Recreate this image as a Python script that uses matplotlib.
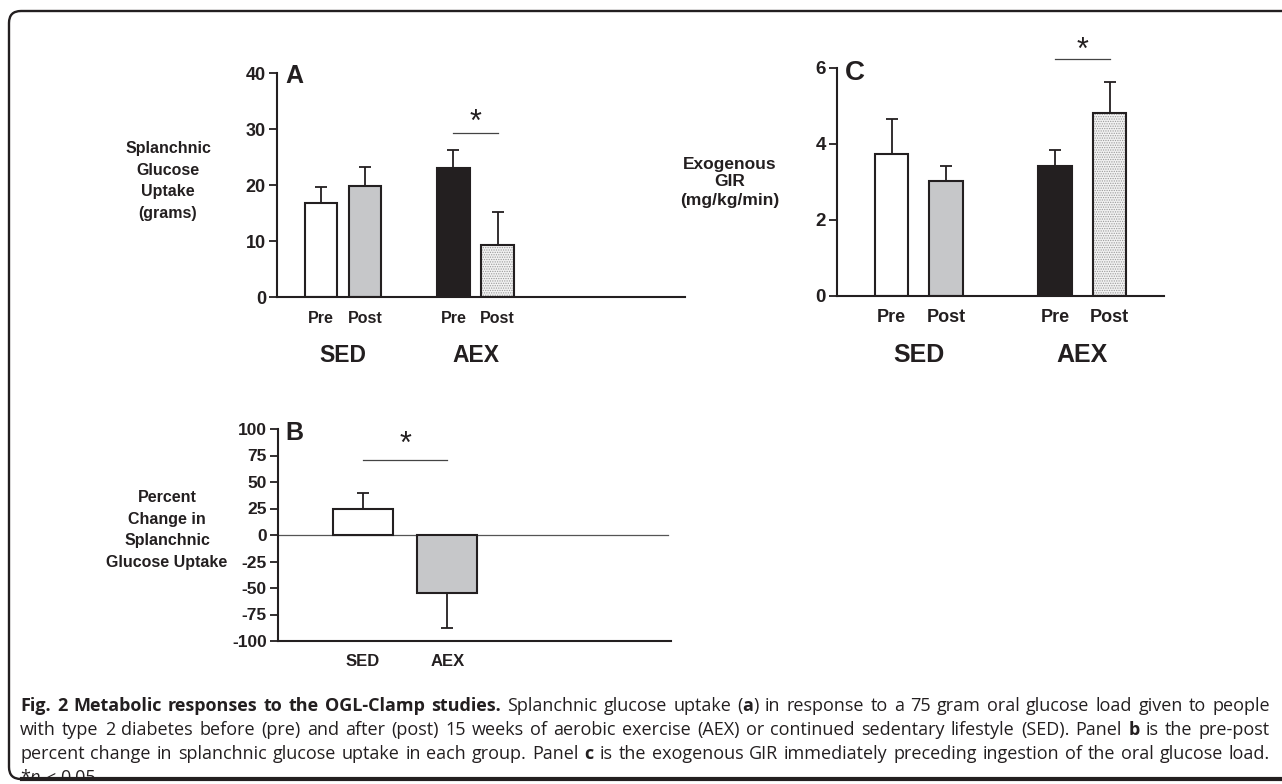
import matplotlib.pyplot as plt
from matplotlib.patches import FancyBboxPatch, Rectangle
from matplotlib.lines import Line2D

W, H = 1282, 784

# panels A and C: pre / post values for each group
phases = ['Pre', 'Post', 'Pre', 'Post']
groups = ['SED', 'AEX']
bar_pos = [0, 1, 3, 4]
sgu_mean = [16.7, 19.9, 23.1, 9.2]     # splanchnic glucose uptake (grams)
sgu_err = [2.9, 3.4, 3.1, 5.9]
gir_mean = [3.75, 3.03, 3.43, 4.81]    # exogenous GIR (mg/kg/min)
gir_err = [0.90, 0.40, 0.41, 0.81]

# panel B: percent change pre -> post
pct_groups = ['SED', 'AEX']
pct_pos = [0, 1]
pct_mean = [24.5, -55.0]
pct_err = [15.0, 32.5]

# ** toggles bold, __ toggles italic
caption_lines = [
    "**Fig. 2 Metabolic responses to the OGL-Clamp studies.** Splanchnic glucose uptake (**a**) in response to a 75 gram oral glucose load given to people",
    "with type 2 diabetes before (pre) and after (post) 15 weeks of aerobic exercise (AEX) or continued sedentary lifestyle (SED). Panel **b** is the pre-post",
    "percent change in splanchnic glucose uptake in each group. Panel **c** is the exogenous GIR immediately preceding ingestion of the oral glucose load.",
    "*__p__ < 0.05",
]

INK = '#231f20'
fills = ['white', '#c6c7c9', INK, '#f2f2f2']
hatches = [None, None, None, '.......']

plt.rcParams['font.family'] = ['Liberation Sans', 'DejaVu Sans']
plt.rcParams['hatch.linewidth'] = 0.6
plt.rcParams['axes.unicode_minus'] = False

fig = plt.figure(figsize=(W / 100, H / 100), dpi=100)


def add_ax(l, t, r, b):
    return fig.add_axes([l / W, 1 - b / H, (r - l) / W, (b - t) / H])


def style(ax, ticksize):
    for s in ['top', 'right']:
        ax.spines[s].set_visible(False)
    for s in ['left', 'bottom']:
        ax.spines[s].set_linewidth(1.5)
        ax.spines[s].set_color(INK)
    ax.tick_params(axis='y', length=6, width=1.3, pad=2, colors=INK, labelsize=ticksize)
    ax.tick_params(axis='x', length=0)
    for lab in ax.get_yticklabels():
        lab.set_fontweight('bold')


def draw_bars(ax, pos, means, errs, width, styles):
    for x, m, e, (fc, ht) in zip(pos, means, errs, styles):
        yerr = [[0], [e]] if m >= 0 else [[e], [0]]
        ax.errorbar([x], [m], yerr=yerr, fmt='none', ecolor=INK, elinewidth=1.3,
                    capsize=4.5, capthick=1.3, zorder=1)
        if ht:
            ax.bar(x, m, width, color=fc, hatch=ht, edgecolor='#9a9a9a', linewidth=0, zorder=2)
            ax.bar(x, m, width, fill=False, edgecolor=INK, linewidth=1.5, zorder=3)
        else:
            ax.bar(x, m, width, color=fc, edgecolor=INK, linewidth=1.5, zorder=2)


def sig(ax, x0, x1, y, ystar):
    ax.plot([x0, x1], [y, y], color='#444444', lw=0.9, clip_on=False)
    ax.annotate('*', xy=((x0 + x1) / 2, ystar), xytext=(0, -12.5), textcoords='offset points',
                ha='center', va='baseline', fontsize=22, color=INK, annotation_clip=False)


def group_labels(ax, xs, labels, off_px, size):
    for x, lab in zip(xs, labels):
        ax.annotate(lab, xy=(x, 0), xycoords=('data', 'axes fraction'),
                    xytext=(0, -off_px * 0.72), textcoords='offset points',
                    ha='center', va='center', fontsize=size, fontweight='bold', color=INK,
                    annotation_clip=False)


# ---- panel A
axA = add_ax(277, 73, 685, 297)
draw_bars(axA, bar_pos, sgu_mean, sgu_err, 0.73, list(zip(fills, hatches)))
axA.set_xlim(-1.0, 8.25)
axA.set_ylim(0, 40)
axA.set_yticks([0, 10, 20, 30, 40])
axA.set_xticks(bar_pos)
axA.set_xticklabels(phases, fontsize=11.5, fontweight='bold', color=INK)
axA.tick_params(axis='x', pad=10)
style(axA, 13)
sig(axA, bar_pos[2], bar_pos[3], 29.3, 32.7)
group_labels(axA, [0.5, 3.5], groups, 58, 16.5)

# ---- panel C
axC = add_ax(837, 68, 1164, 296)
draw_bars(axC, bar_pos, gir_mean, gir_err, 0.61, list(zip(fills, hatches)))
axC.set_xlim(-1.0, 5.0)
axC.set_ylim(0, 6)
axC.set_yticks([0, 2, 4, 6])
axC.set_xticks(bar_pos)
axC.set_xticklabels(phases, fontsize=13, fontweight='bold', color=INK)
axC.tick_params(axis='x', pad=9)
style(axC, 13.5)
sig(axC, bar_pos[2], bar_pos[3], 6.24, 6.7)
group_labels(axC, [0.5, 3.5], groups, 59, 18)

# ---- panel B
axB = add_ax(278, 429, 671, 641)
draw_bars(axB, pct_pos, pct_mean, pct_err, 0.71, list(zip(fills[:2], hatches[:2])))
axB.plot([-1.0, 3.6], [0, 0], color='#555555', lw=0.9, zorder=1, clip_on=False)
axB.set_xlim(-1.0, 3.64)
axB.set_ylim(-100, 100)
axB.set_yticks(range(-100, 101, 25))
axB.set_xticks(pct_pos)
axB.set_xticklabels(pct_groups, fontsize=12, fontweight='bold', color=INK)
axB.tick_params(axis='x', pad=9)
style(axB, 12.5)
sig(axB, pct_pos[0], pct_pos[1], 70.8, 94)

# ---- axis titles and panel letters
def ftext(x, y, s, **kw):
    return fig.text(x / W, 1 - y / H, s, color=INK, fontweight='bold', **kw)

ftext(168, 181, "Splanchnic\nGlucose\nUptake\n(grams)", fontsize=11.5, ha='center', va='center',
      multialignment='center', linespacing=1.55)
ftext(730, 182, "Exogenous\nGIR\n(mg/kg/min)", fontsize=12.5, ha='center', va='center',
      multialignment='center', linespacing=1.25)
ftext(167, 530, "Percent\nChange in\nSplanchnic\nGlucose Uptake", fontsize=11.5, ha='center',
      va='center', multialignment='center', linespacing=1.55)
ftext(285, 83, "A", fontsize=18, ha='left', va='baseline')
ftext(845, 80, "C", fontsize=20, ha='left', va='baseline')
ftext(285, 440, "B", fontsize=18, ha='left', va='baseline')

# ---- caption, justified between x=20 and x=1270
cap_font = 'Open Sans'


def parse(line):
    # words as lists of [text, bold, italic] runs
    words, cur, bold, ital, i = [], [], False, False, 0
    while i < len(line):
        if line.startswith('**', i):
            bold = not bold
            i += 2
            continue
        if line.startswith('__', i):
            ital = not ital
            i += 2
            continue
        ch = line[i]
        if ch == ' ':
            if cur:
                words.append(cur)
                cur = []
        elif cur and cur[-1][1] == bold and cur[-1][2] == ital:
            cur[-1][0] += ch
        else:
            cur.append([ch, bold, ital])
        i += 1
    if cur:
        words.append(cur)
    return words


renderer = fig.canvas.get_renderer()


def seg_text(x, y, s, b, it, size):
    return fig.text(x, y, s, fontsize=size, family=cap_font, color=INK,
                    fontstyle='italic' if it else 'normal',
                    fontweight='bold' if b else 'normal', ha='left', va='baseline')


def seg_width(s, b, it, size):
    t = seg_text(0, 0, s, b, it, size)
    w = t.get_window_extent(renderer).width
    t.remove()
    return w


x_left, x_right = 20, 1270
parsed = [parse(l) for l in caption_lines]

# pick the size so the widest line fills the column with normal word spacing
base = 10.0
sp0 = seg_width('x x', False, False, base) - seg_width('xx', False, False, base)
nat = []
for words in parsed[:3]:
    tot = sum(seg_width(s, b, it, base) for w in words for s, b, it in w)
    nat.append(tot + sp0 * (len(words) - 1))
cap_size = base * (x_right - x_left) / max(nat) * 0.985

space = seg_width('x x', False, False, cap_size) - seg_width('xx', False, False, cap_size)
baselines = [711, 735, 759, 783]
for k, (words, yb) in enumerate(zip(parsed, baselines)):
    widths = [[seg_width(s, b, it, cap_size) for s, b, it in w] for w in words]
    total = sum(sum(ws) for ws in widths)
    if k < 3 and len(words) > 1:
        gap = (x_right - x_left - total) / (len(words) - 1)
    else:
        gap = space
    x = x_left
    for w, ws in zip(words, widths):
        for (s, b, it), sw in zip(w, ws):
            seg_text(x / W, 1 - yb / H, s, b, it, cap_size)
            x += sw
        x += gap

# ---- frame around the figure (open on the right)
fig.add_artist(Rectangle((0, 0), W / 100, (H - 778) / 100, transform=fig.dpi_scale_trans,
                         facecolor='white', edgecolor='none', zorder=8))
fig.add_artist(FancyBboxPatch((9 / 100, (H - 779) / 100), (W + 40) / 100, (779 - 11) / 100,
                              boxstyle='round,pad=0,rounding_size=0.12',
                              transform=fig.dpi_scale_trans, fill=False, lw=1.7,
                              edgecolor=INK, zorder=9, clip_on=False))
fig.add_artist(Line2D([22 / W, 1.0], [1 - 779 / H, 1 - 779 / H], transform=fig.transFigure,
                      color=INK, lw=3.0, zorder=9))

fig.savefig('out.png', dpi=100)
